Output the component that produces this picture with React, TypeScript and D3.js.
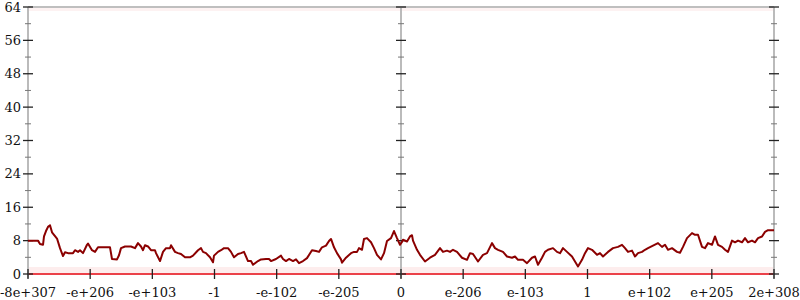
import React from "react";
import * as d3 from "d3";

const steps = [0,10,12,15,16,18,20,22,24,29,32,35,37,40,45,47,50,52,55,59,60,64,67,70,82,84,89,91,93,97,103,107,110,113,115,117,120,123,127,128,132,135,138,142,143,147,150,153,157,162,165,170,173,175,178,182,185,186,190,193,196,200,203,206,210,213,216,220,223,225,230,233,238,241,243,248,253,255,258,261,265,268,271,275,279,284,288,291,294,298,301,303,306,309,313,314,318,323,326,329,331,334,336,339,343,346,349,353,356,359,363,366,369,372,374,375,379,382,384,385,389,392,397,402,407,412,415,419,422,425,429,434,439,442,445,450,455,459,464,467,470,475,479,484,487,490,495,499,504,507,510,514,517,520,525,529,532,535,539,544,547,550,554,557,560,564,569,572,575,580,585,590,594,597,600,604,607,610,614,617,620,625,630,634,637,640,644,649,652,655,659,664,667,670,674,677,680,684,687,690,694,697,700,704,707,710,714,717,720,724,727,730,734,737,740,746];
const values = [8,8,7.2,7,9,10.3,11.3,11.7,10,8.5,6.2,4.3,5.2,5,5,5.7,5.3,5.7,5,7,7.3,5.7,5.3,6.4,6.4,3.6,3.5,4.5,6.2,6.6,6.6,6.2,7.4,6.6,5.7,6.9,6.6,5.7,5.7,5,3.1,5.3,6.2,6.2,6.9,5.3,5,4.8,4,4,4.4,5.7,6.2,5.3,5,4,2.8,4.4,5.3,5.7,6.2,6.2,5.3,4,4.8,5,5.3,3.1,3.1,2.2,3.1,3.5,3.6,3.6,3.1,3.6,4.4,3.6,3.1,3.6,3.1,3.5,2.6,3.1,3.8,5.7,5.5,5.3,6.4,6.8,7.9,8.4,6.4,5,3.5,2.7,3.9,5,5.3,5.3,6.2,5.8,8.4,8.6,7.6,6.2,4.6,3.5,5,7.9,8.6,10.3,8.6,7,7.7,8.2,7.8,9,9.3,8,5.8,4.6,3,3.9,4.6,6.2,5.3,5.6,5.3,5.8,5.3,3.9,3.4,5,4.8,3,4.6,5,7.4,6.2,5.8,5.3,4.2,3.9,4.2,3.4,3.4,2.6,3.9,4.2,2.2,3.9,5.3,5.8,6.2,5.3,5,6.2,5.3,4.2,3,1.8,3.4,5,6.2,5.8,4.6,5,4.2,5.3,6.2,6.5,7,6.2,5.3,5.6,4.2,5,5.3,5.8,6.2,6.8,7.4,6.5,7,5.8,6.2,5.3,5.1,6.5,8.6,9.8,9.4,9.4,6.5,6.2,7.4,7,9,7,6.5,5.8,5.3,8,7.6,8,7.6,8.6,7.6,8,7.6,8.6,9,10.1,10.5,10.5];

const xTickLabels = ["-8e+307","-e+206","-e+103","-1","-e-102","-e-205","0","e-206","e-103","1","e+102","e+205","2e+308"];
const yMajor = [0,8,16,24,32,40,48,56,64];
const yMinor = [4,12,20,28,36,44,52,60];

export default function App() {
  const left = 28, right = 774, top = 7, bottom = 274;
  const x = d3.scaleLinear().domain([0, 746]).range([left, right]);
  const y = d3.scaleLinear().domain([0, 64]).range([bottom, top]);
  const xt = d3.scalePoint<string>().domain(xTickLabels).range([left, right]);
  const line = d3.line<number>().x((_, i) => x(steps[i])).y((d) => y(d));
  const axesX = [left, (left + right) / 2, right];
  const font = "'DejaVu Serif', 'Liberation Serif', serif";
  return (
    <svg width={800} height={300} style={{ position: "absolute", left: 0, top: 0, background: "#fff" }}>
      <line x1={left} x2={right} y1={y(64)} y2={y(64)} stroke="#aaa" strokeWidth={1.5} />
      <rect x={left} y={y(64) + 1} width={right - left} height={3} fill="#f08080" opacity={0.1} />
      <rect x={left} y={y(0) - 7} width={right - left} height={6} fill="#f08080" opacity={0.14} />
      <line x1={left} x2={right} y1={y(0)} y2={y(0)} stroke="#e8202a" strokeWidth={2} opacity={0.85} />
      {axesX.map((ax, k) => (
        <g key={k}>
          <line x1={ax} x2={ax} y1={top} y2={bottom + 4} stroke="#bbb" strokeWidth={2} />
          {yMinor.map((v) => (
            <line key={"m" + v} x1={ax - 3} x2={ax + 3} y1={y(v)} y2={y(v)} stroke="#777" strokeWidth={1} />
          ))}
          {yMajor.map((v) => (
            <line key={"M" + v} x1={ax - 5} x2={ax + 5} y1={y(v)} y2={y(v)} stroke="#222" strokeWidth={1.3} />
          ))}
        </g>
      ))}
      {yMajor.map((v) => (
        <text key={v} x={21} y={y(v)} dy="0.35em" textAnchor="end" fontFamily={font} fontSize={13} fill="#111">
          {v}
        </text>
      ))}
      {xTickLabels.map((t) => (
        <g key={t}>
          <line x1={xt(t)} x2={xt(t)} y1={bottom - 5} y2={bottom + 5} stroke="#222" strokeWidth={1.3} />
          <text x={xt(t)} y={297} textAnchor="middle" fontFamily={font} fontSize={13} fill="#111">
            {t}
          </text>
        </g>
      ))}
      <path d={line(values) || ""} fill="none" stroke="#8b0000" strokeWidth={2} strokeLinejoin="round" />
    </svg>
  );
}
